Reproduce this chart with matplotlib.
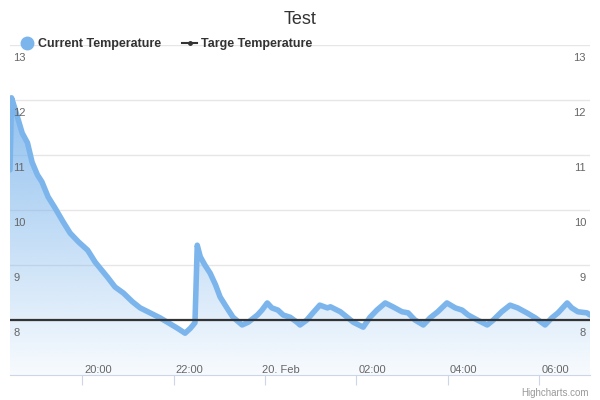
import datetime as dt
import numpy as np
import matplotlib
matplotlib.use('Agg')
import matplotlib.pyplot as plt
import matplotlib.dates as mdates
import matplotlib.transforms as mtransforms
from matplotlib.lines import Line2D

plt.rcParams['font.family'] = ['Liberation Sans', 'DejaVu Sans']

# readings (clock time, value); times before noon are on 20 Feb
times = ['18:25', '18:27', '18:32', '18:41', '18:48', '18:54', '19:01', '19:07', '19:15', '19:24',
         '19:35', '19:44', '19:55', '20:07', '20:17', '20:33', '20:43', '20:54', '21:06', '21:16',
         '21:29', '21:42', '21:53', '22:05', '22:15', '22:22', '22:28', '22:31', '22:35', '22:41',
         '22:48', '22:55', '23:01', '23:10', '23:18', '23:30', '23:38', '23:50', '23:56', '00:03',
         '00:09', '00:17', '00:24', '00:33', '00:42', '00:46', '00:55', '01:03', '01:12', '01:22',
         '01:26', '01:39', '01:48', '01:56', '02:09', '02:18', '02:27', '02:38', '02:48', '03:00',
         '03:08', '03:17', '03:28', '03:37', '03:47', '03:59', '04:10', '04:19', '04:27', '04:39',
         '04:52', '05:00', '05:11', '05:22', '05:32', '05:44', '05:55', '06:08', '06:17', '06:25',
         '06:37', '06:43', '06:51', '07:03', '07:07']
current_temp = [10.73, 12.04, 11.82, 11.40, 11.22, 10.87, 10.64, 10.51, 10.24, 10.04,
                9.78, 9.58, 9.42, 9.27, 9.05, 8.78, 8.60, 8.49, 8.33, 8.22,
                8.13, 8.04, 7.95, 7.85, 7.76, 7.85, 7.95, 9.36, 9.15, 9.00,
                8.85, 8.64, 8.42, 8.22, 8.05, 7.91, 7.96, 8.09, 8.18, 8.31,
                8.22, 8.18, 8.09, 8.05, 7.96, 7.91, 8.00, 8.13, 8.27, 8.22,
                8.24, 8.15, 8.05, 7.96, 7.87, 8.05, 8.18, 8.31, 8.24, 8.15,
                8.13, 8.00, 7.91, 8.04, 8.15, 8.31, 8.22, 8.18, 8.09, 8.00,
                7.91, 8.00, 8.15, 8.27, 8.22, 8.13, 8.04, 7.91, 8.04, 8.13,
                8.31, 8.22, 8.15, 8.13, 8.09]
target_temp = 8.0

tick_times = ['20:00', '22:00', '00:00', '02:00', '04:00', '06:00']
tick_labels = ['20:00', '22:00', '20. Feb', '02:00', '04:00', '06:00']
y_ticks = [7, 8, 9, 10, 11, 12, 13]
x_start, x_end = '18:25', '07:07'


def to_dt(s):
    h, m = map(int, s.split(':'))
    day = 20 if h < 12 else 19
    return dt.datetime(2014, 2, day, h, m)


x = mdates.date2num([to_dt(t) for t in times])
y = np.array(current_temp)
x0, x1 = mdates.date2num([to_dt(x_start), to_dt(x_end)])

blue = '#7cb5ec'
fig = plt.figure(figsize=(6, 4), dpi=100)
ax = fig.add_axes([10 / 600, 25 / 400, 580 / 600, 330 / 400])
ax.set_xlim(x0, x1)
ax.set_ylim(7, 13)

# gridlines
for v in y_ticks[1:]:
    ax.axhline(v, color='#e6e6e6', lw=1, zorder=0)

# gradient area fill clipped to the series polygon
poly = ax.fill_between(x, y, 7, color='none', lw=0)
grad = np.zeros((256, 1, 4))
rgb = np.array([124, 181, 236]) / 255
grad[:, 0, :3] = rgb
grad[:, 0, 3] = np.linspace(0.85, 0.06, 256)
img = ax.imshow(grad, extent=[x0, x1, 7, max(current_temp)], origin='upper',
                aspect='auto', zorder=1, interpolation='bilinear')
img.set_clip_path(poly.get_paths()[0], transform=ax.transData)

ax.plot(x, y, color=blue, lw=4, solid_joinstyle='round', solid_capstyle='round', zorder=3)
ax.axhline(target_temp, color='#333333', lw=1.6, zorder=4)

# axes styling
for s in ['top', 'left', 'right']:
    ax.spines[s].set_visible(False)
ax.spines['bottom'].set_color('#ccd6eb')
ax.set_yticks([])
ax.set_xticks(mdates.date2num([to_dt(t) for t in tick_times]))
ax.set_xticklabels(tick_labels)
ax.tick_params(axis='x', direction='out', length=7.2, width=0.8, color='#ccd6eb',
               pad=-14.5, labelsize=8, labelcolor='#666666')
shift = mtransforms.ScaledTranslation(16 / 100, 0, fig.dpi_scale_trans)
for lab in ax.get_xticklabels():
    lab.set_transform(lab.get_transform() + shift)

# y labels inside the plot, on both sides
left_tr = mtransforms.offset_copy(ax.get_yaxis_transform(), fig=fig, x=3, y=-8, units='dots')
right_tr = mtransforms.offset_copy(ax.get_yaxis_transform(), fig=fig, x=-4, y=-8, units='dots')
for v in y_ticks[1:]:
    ax.text(0, v, str(v), transform=left_tr, ha='left', va='top', fontsize=8, color='#666666')
    ax.text(1, v, str(v), transform=right_tr, ha='right', va='top', fontsize=8, color='#666666')

fig.text(0.5, 1 - 19 / 400, 'Test', ha='center', va='center', fontsize=13, color='#333333')
fig.text(589 / 600, 1 - 393 / 400, 'Highcharts.com', ha='right', va='center',
         fontsize=7, color='#999999')

handles = [Line2D([], [], color=blue, marker='o', markersize=9, lw=0),
           Line2D([], [], color='#333333', marker='o', markersize=2.5, lw=1.5)]
leg = fig.legend(handles, ['Current Temperature', 'Targe Temperature'], loc='center left',
                 bbox_to_anchor=(8 / 600, 1 - 44 / 400), ncol=2, frameon=False,
                 handlelength=1.2, handletextpad=0.3, columnspacing=1.7,
                 prop={'weight': 'bold', 'size': 9})
for t in leg.get_texts():
    t.set_color('#333333')

fig.savefig('out.png', dpi=100)
